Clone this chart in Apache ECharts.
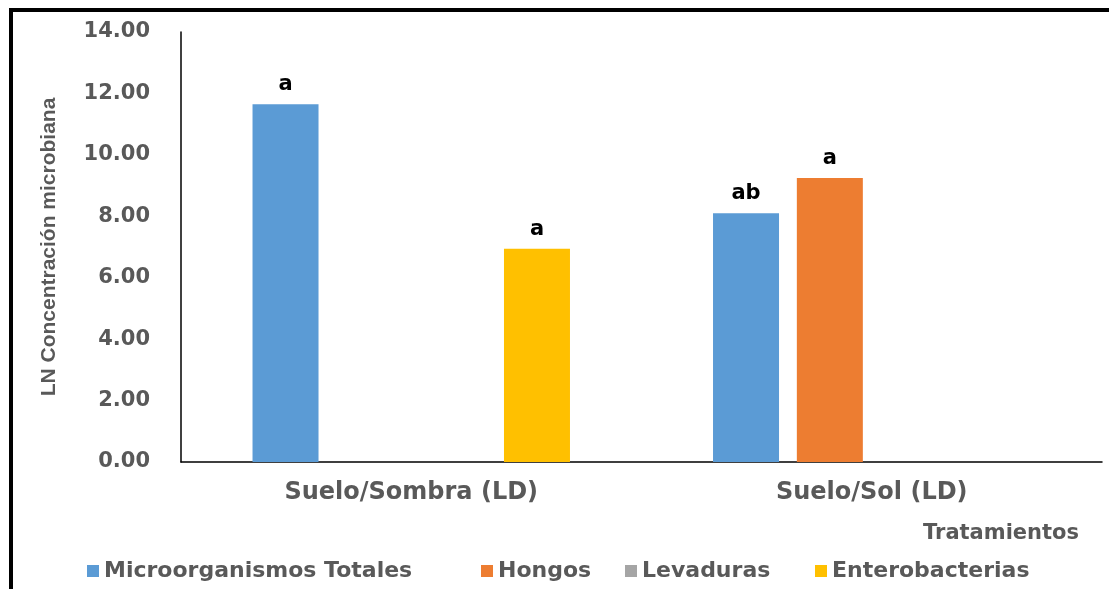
<!DOCTYPE html>
<html>
<head>
<meta charset="utf-8">
<script src="https://cdn.jsdelivr.net/npm/echarts@6/dist/echarts.min.js"></script>
<style>
  html, body { margin: 0; padding: 0; background: #fff; }
  #echart { width: 1109px; height: 589px; }
  .marco {
    position: absolute; left: 9px; top: 8px; width: 1200px; height: 700px;
    border-top: 4px solid #000; border-left: 4px solid #000; pointer-events: none;
  }
</style>
</head>
<body>
<div id="echart"></div>
<div class="marco"></div>
<script>
// datos
var tratamientos = ['Suelo/Sombra (LD)', 'Suelo/Sol (LD)'];
var nombresSeries = ['Microorganismos Totales', 'Hongos', 'Levaduras', 'Enterobacterias'];
var totales = [11.65, 8.1];
var hongos = [null, 9.25];
var levaduras = [null, null];
var enterobacterias = [6.94, null];
// letras de significancia
var letrasTotales = ['a', 'ab'];
var letrasHongos = ['', 'a'];
var letrasLevaduras = ['', ''];
var letrasEnterobacterias = ['a', ''];
var ejeY = { min: 0, max: 14, interval: 2 };

var gris = '#595959';
var fuenteAncha = "'DejaVu Sans', sans-serif";
var colores = ['#5B9BD5', '#ED7D31', '#A5A5A5', '#FFC000'];
// posición izquierda de cada entrada de la leyenda
var leyendaX = [82, 476, 620, 810];

function serie(nombre, datos, letras, color) {
  return {
    name: nombre,
    type: 'bar',
    barWidth: 66,
    barGap: '27%',
    itemStyle: { color: color },
    label: {
      show: true,
      position: 'top',
      distance: 9,
      color: '#000',
      fontWeight: 'bold',
      fontSize: 21,
      fontFamily: fuenteAncha,
      formatter: function (p) { return letras[p.dataIndex]; }
    },
    data: datos
  };
}

var leyendas = nombresSeries.map(function (n, i) {
  return {
    data: [n],
    left: leyendaX[i],
    top: 555,
    itemWidth: 12,
    itemHeight: 12,
    icon: 'rect',
    textStyle: { color: gris, fontSize: 22, fontWeight: 'bold', fontFamily: fuenteAncha }
  };
});

var option = {
  animation: false,
  color: colores,
  title: {
    text: 'Tratamientos',
    right: 25,
    top: 518,
    textStyle: { color: gris, fontSize: 21, fontWeight: 'bold', fontFamily: fuenteAncha }
  },
  legend: leyendas,
  grid: { left: 181, right: 7, top: 32, bottom: 127 },
  xAxis: {
    type: 'category',
    data: tratamientos,
    axisLine: { lineStyle: { color: '#000', width: 1.5 } },
    axisTick: { show: false },
    axisLabel: { margin: 19, color: gris, fontSize: 24, fontWeight: 'bold', fontFamily: fuenteAncha }
  },
  yAxis: {
    type: 'value',
    min: ejeY.min,
    max: ejeY.max,
    interval: ejeY.interval,
    name: 'LN Concentración microbiana',
    nameLocation: 'middle',
    nameGap: 121,
    nameTextStyle: {
      color: gris, fontSize: 21, fontWeight: 'bold',
      fontFamily: "'Liberation Sans Narrow', 'Liberation Sans', sans-serif"
    },
    splitLine: { show: false },
    axisTick: { show: false },
    axisLine: { show: true, lineStyle: { color: '#000', width: 1.5 } },
    axisLabel: {
      margin: 31, color: gris, fontSize: 21, fontWeight: 'bold', fontFamily: fuenteAncha,
      formatter: function (v) { return v.toFixed(2); }
    }
  },
  series: [
    serie(nombresSeries[0], totales, letrasTotales, colores[0]),
    serie(nombresSeries[1], hongos, letrasHongos, colores[1]),
    serie(nombresSeries[2], levaduras, letrasLevaduras, colores[2]),
    serie(nombresSeries[3], enterobacterias, letrasEnterobacterias, colores[3])
  ]
};

var myChart = echarts.init(document.getElementById('echart'));
myChart.setOption(option);
</script>
</body>
</html>
